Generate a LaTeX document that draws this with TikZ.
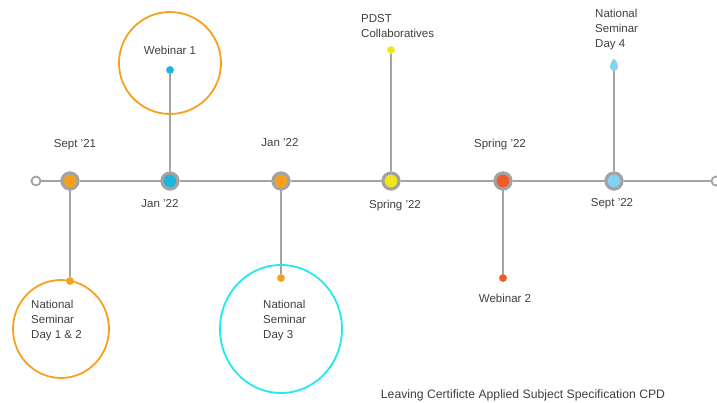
\documentclass[tikz,border=0pt]{standalone}
\usepackage{fontspec}
\setmainfont{Liberation Sans}
\definecolor{linegray}{HTML}{A3A3A3}
\definecolor{txt}{HTML}{3F3F3F}
\definecolor{corange}{HTML}{F7A01E}
\definecolor{cblue}{HTML}{1FB6D9}
\definecolor{cyellow}{HTML}{F3E51C}
\definecolor{cred}{HTML}{F15A29}
\definecolor{clight}{HTML}{80D4F2}
\definecolor{ccyan}{HTML}{22E8F2}
\tikzset{
  stem/.style={draw=linegray, line width=2.8pt},
  milestone/.style={circle, draw=linegray, line width=3pt, minimum size=16pt, inner sep=0pt, fill=#1},
  enddot/.style={circle, draw=linegray, line width=1.8pt, minimum size=9pt, inner sep=0pt, fill=white},
  tipdot/.style={circle, fill=#1, minimum size=7.5pt, inner sep=0pt},
  lbl/.style={text=txt, font=\fontsize{11.5}{15}\selectfont, inner sep=0pt},
  blockl/.style={lbl, align=left, anchor=north west},
  ring/.style={draw=#1, line width=1.8pt}
}
\begin{document}
\begin{tikzpicture}[x=1pt, y=-1pt]
\useasboundingbox (0,0) rectangle (717,403);

% end points of the timeline
\node[enddot] (start) at (36,181) {};
\node[enddot] (finish) at (716,181) {};

% milestones along the line
\node[milestone=corange] (m1) at (70,181) {};
\node[milestone=cblue]   (m2) at (170,181) {};
\node[milestone=corange] (m3) at (281,181) {};
\node[milestone=cyellow] (m4) at (391,181) {};
\node[milestone=cred]    (m5) at (503,181) {};
\node[milestone=clight]  (m6) at (614,181) {};

% stem end dots
\node[tipdot=corange] (d1) at (70,281) {};
\node[tipdot=cblue]   (d2) at (170,70) {};
\node[tipdot=corange] (d3) at (281,278) {};
\node[tipdot=cyellow] (d4) at (391,50) {};
\node[tipdot=cred]    (d5) at (503,278) {};
\coordinate (d6) at (614,70);

% main line and stems
\draw[stem] (start) -- (m1) -- (m2) -- (m3) -- (m4) -- (m5) -- (m6) -- (finish);
\draw[stem] (m1) -- (d1);
\draw[stem] (m2) -- (d2);
\draw[stem] (m3) -- (d3);
\draw[stem] (m4) -- (d4);
\draw[stem] (m5) -- (d5);
\draw[stem] (m6) -- (d6);

% dots on top of stems
\node[tipdot=corange] at (d1) {};
\node[tipdot=cblue]   at (d2) {};
\node[tipdot=corange] at (d3) {};
\node[tipdot=cyellow] at (d4) {};
\node[tipdot=cred]    at (d5) {};
% teardrop tip for Day 4
\fill[clight] (614,58.5) .. controls (615.5,60) and (618,63.5) .. (618,67)
  .. controls (618,72) and (610,72) .. (610,67)
  .. controls (610,63.5) and (612.5,60) .. cycle;
% milestones above the line
\node[milestone=corange] at (m1) {};
\node[milestone=cblue]   at (m2) {};
\node[milestone=corange] at (m3) {};
\node[milestone=cyellow] at (m4) {};
\node[milestone=cred]    at (m5) {};
\node[milestone=clight]  at (m6) {};

% date labels
\node[lbl] (t1) at (75,145) {Sept '21};
\node[lbl] (t2) at (160,204) {Jan '22};
\node[lbl] (t3) at (280,143) {Jan '22};
\node[lbl] (t4) at (395,206) {Spring '22};
\node[lbl] (t5) at (500,145) {Spring '22};
\node[lbl] (t6) at (612,204) {Sept '22};

% highlight rings
\draw[ring=corange] (61,329) ellipse (48pt and 49pt);
\draw[ring=corange] (170,63) circle (51pt);
\draw[ring=ccyan]   (281,329) ellipse (61pt and 64pt);

% event labels
\node[blockl] (e1) at (31,300) {National\\Seminar\\Day 1 \& 2};
\node[lbl]    (e2) at (170,50) {Webinar 1};
\node[blockl] (e3) at (263,300) {National\\Seminar\\Day 3};
\node[blockl] (e4) at (361,14) {PDST\\Collaboratives};
\node[lbl]    (e5) at (505,298) {Webinar 2};
\node[blockl] (e6) at (595,9) {National\\Seminar\\Day 4};

% footer
\node[lbl, font=\fontsize{12.2}{15}\selectfont] (foot) at (523,395) {Leaving Certificte Applied Subject Specification CPD};
\end{tikzpicture}
\end{document}
